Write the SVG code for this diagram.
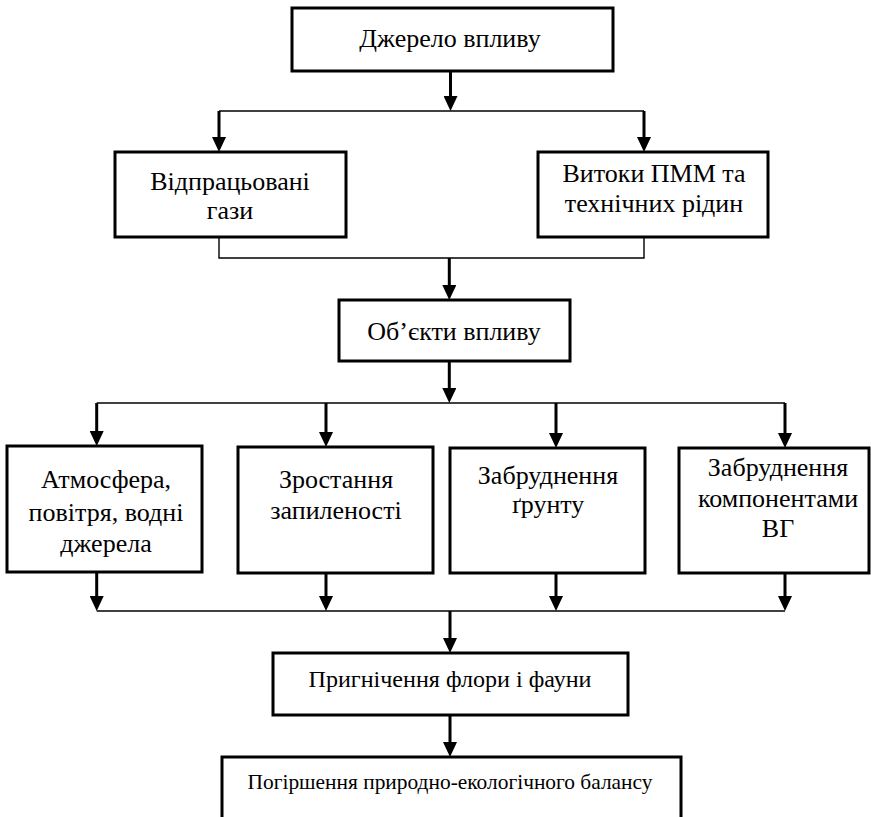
<svg xmlns="http://www.w3.org/2000/svg" width="871" height="817" viewBox="0 0 871 817">
<style>
.box{fill:#fff;stroke:#000;stroke-width:3}
.bus{fill:none;stroke:#000;stroke-width:1.4}
.arr{fill:none;stroke:#000;stroke-width:3;marker-end:url(#ah)}
</style>
<defs>
<marker id="ah" viewBox="0 0 15 14" refX="7" refY="7" markerWidth="15" markerHeight="14" markerUnits="userSpaceOnUse" orient="auto">
<path d="M0,0 L15,7 L0,14 Z" fill="#000"/>
</marker>
</defs>
<rect width="871" height="817" fill="#fff"/>
<g id="connectors">
<path class="bus" d="M219,111 H644"/>
<path class="bus" d="M219,237 V258 H644 V237"/>
<path class="bus" d="M96.7,403 H785"/>
<path class="bus" d="M96.7,611 H785"/>
<path class="arr" d="M450.5,71 V103"/>
<path class="arr" d="M219,111 V144"/>
<path class="arr" d="M644,111 V144"/>
<path class="arr" d="M449.3,258 V292"/>
<path class="arr" d="M449.3,361 V395"/>
<path class="arr" d="M96.7,403 V438"/>
<path class="arr" d="M326,403 V439"/>
<path class="arr" d="M556,403 V440"/>
<path class="arr" d="M785,403 V440"/>
<path class="arr" d="M96.7,572 V603"/>
<path class="arr" d="M326,573 V603"/>
<path class="arr" d="M556,573 V603"/>
<path class="arr" d="M785,573 V603"/>
<path class="arr" d="M450,611 V645"/>
<path class="arr" d="M450,715 V749"/>
</g>
<g font-family="Liberation Serif" font-size="26" text-anchor="middle" fill="#000">
<g id="n-source">
<rect class="box" x="292" y="8" width="321" height="63"/>
<text x="450" y="47">Джерело впливу</text>
</g>
<g id="n-gases">
<rect class="box" x="115" y="152" width="231" height="85"/>
<text x="230" y="190">Відпрацьовані</text>
<text x="230" y="219">гази</text>
</g>
<g id="n-leaks">
<rect class="box" x="538" y="152" width="230" height="85"/>
<text x="654" y="182">Витоки ПММ та</text>
<text x="654" y="212">технічних рідин</text>
</g>
<g id="n-objects">
<rect class="box" x="339" y="300" width="231" height="61"/>
<text x="454" y="340">Об’єкти впливу</text>
</g>
<g id="n-atmo">
<rect class="box" x="7" y="446" width="195" height="126"/>
<text x="106" y="488">Атмосфера,</text>
<text x="106" y="521">повітря, водні</text>
<text x="106" y="552">джерела</text>
</g>
<g id="n-dust">
<rect class="box" x="238" y="447" width="195" height="126"/>
<text x="336" y="488">Зростання</text>
<text x="336" y="519">запиленості</text>
</g>
<g id="n-soil">
<rect class="box" x="450" y="448" width="195" height="125"/>
<text x="548" y="484">Забруднення</text>
<text x="548" y="513">ґрунту</text>
</g>
<g id="n-vg">
<rect class="box" x="679" y="448" width="190" height="125"/>
<text x="778" y="476">Забруднення</text>
<text x="778" y="507">компонентами</text>
<text x="778" y="537">ВГ</text>
</g>
<g id="n-flora">
<rect class="box" x="273" y="653" width="355" height="62"/>
<text x="450" y="687" font-size="24" textLength="283" lengthAdjust="spacingAndGlyphs">Пригнічення флори і фауни</text>
</g>
<g id="n-balance">
<rect class="box" x="222" y="757" width="459" height="80"/>
<text x="450" y="789" font-size="22" textLength="405" lengthAdjust="spacingAndGlyphs">Погіршення природно-екологічного балансу</text>
</g>
</g>
</svg>
